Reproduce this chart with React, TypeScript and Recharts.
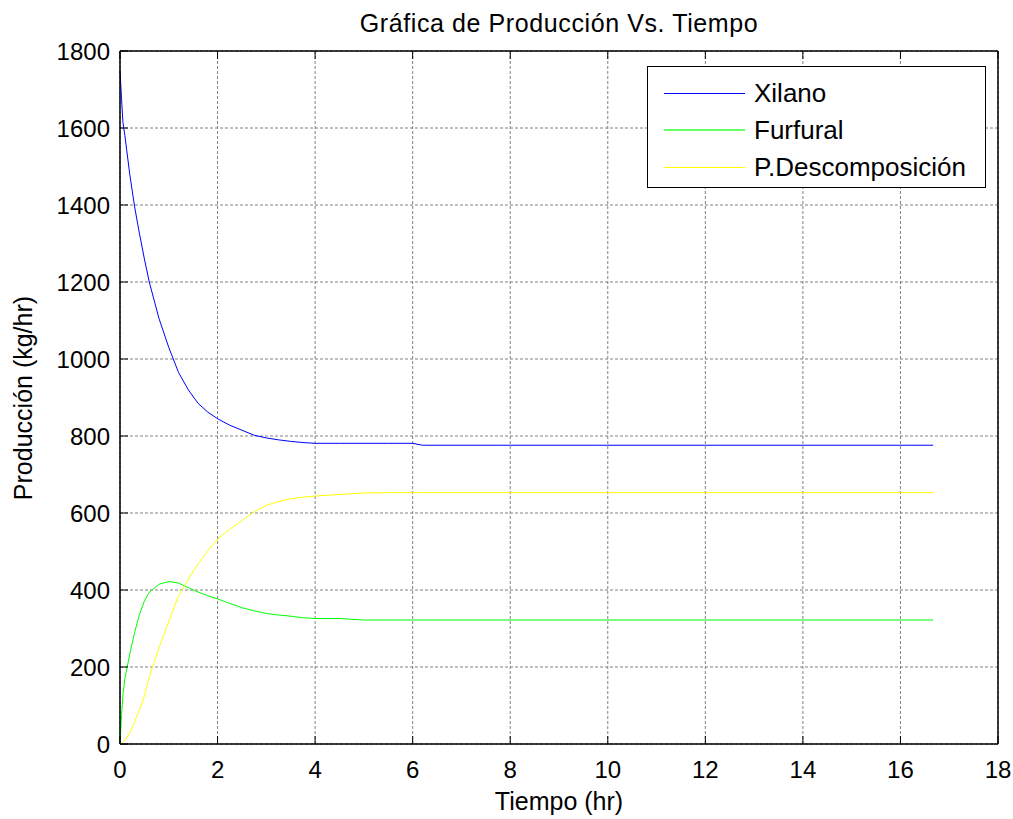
import React from "react";
import { LineChart, Line, CartesianGrid, XAxis, YAxis } from "recharts";

// tiempo (hr)
const times = [
  0, 0.03, 0.06, 0.1, 0.2, 0.3, 0.4, 0.5, 0.6, 0.8, 1.0, 1.2, 1.4, 1.6, 1.8,
  2.0, 2.25, 2.5, 2.75, 3.0, 3.25, 3.5, 3.75, 4.0, 4.5, 5.0, 5.5, 6.0, 6.2, 8,
  10, 12, 14, 16, 16.67,
];

const xilano = [
  1750, 1680, 1615, 1580, 1480, 1395, 1325, 1260, 1200, 1105, 1030, 965, 920,
  885, 862, 845, 828, 815, 802, 795, 790, 786, 783, 781, 781, 781, 781, 781,
  776, 776, 776, 776, 776, 776, 776,
];

const furfural = [
  0, 70, 128, 170, 233, 290, 337, 371, 394, 415, 422, 418, 406, 395, 385, 377,
  365, 354, 346, 339, 335, 332, 328, 326, 326, 322, 322, 322, 322, 322, 322,
  322, 322, 322, 322,
];

const descomposicion = [
  0, 1, 4, 10, 28, 58, 88, 125, 175, 250, 318, 385, 428, 468, 502, 532, 558,
  580, 603, 620, 630, 637, 641, 644, 648, 652, 653, 653, 653, 653, 653, 653,
  653, 653, 653,
];

const xTicks = [0, 2, 4, 6, 8, 10, 12, 14, 16, 18];
const yTicks = [0, 200, 400, 600, 800, 1000, 1200, 1400, 1600, 1800];

const series = [
  { key: "xilano", name: "Xilano", color: "#0000ff", legendColor: "#0000ff", legendWidth: 1 },
  { key: "furfural", name: "Furfural", color: "#00ff00", legendColor: "#66ff66", legendWidth: 2 },
  { key: "descomposicion", name: "P.Descomposición", color: "#ffff00", legendColor: "#ffff00", legendWidth: 1 },
];

const data = times.map((t, i) => ({
  t,
  xilano: xilano[i],
  furfural: furfural[i],
  descomposicion: descomposicion[i],
}));

const FONT = '"Liberation Sans", Arial, sans-serif';
const W = 1013;
const H = 819;
// plot box
const LEFT = 120;
const TOP = 51;
const RIGHT = 998;
const BOTTOM = 744;
const TICK_LEN = 8;

// MATLAB style ticks: pointing into the plot box
const BottomTick = (props: any) => {
  const { payload } = props;
  const x = payload.coordinate;
  return (
    <g>
      <line x1={x} x2={x} y1={BOTTOM} y2={BOTTOM - TICK_LEN} stroke="#000" />
      <text
        x={x}
        y={BOTTOM + 34}
        textAnchor="middle"
        fontSize={24}
        fontFamily={FONT}
        fill="#000"
      >
        {payload.value}
      </text>
    </g>
  );
};

const TopTick = (props: any) => {
  const x = props.payload.coordinate;
  return <line x1={x} x2={x} y1={TOP} y2={TOP + TICK_LEN} stroke="#000" />;
};

const LeftTick = (props: any) => {
  const { payload } = props;
  const y = payload.coordinate;
  return (
    <g>
      <line x1={LEFT} x2={LEFT + TICK_LEN} y1={y} y2={y} stroke="#000" />
      <text
        x={LEFT - 10}
        y={y + 8.5}
        textAnchor="end"
        fontSize={24}
        fontFamily={FONT}
        fill="#000"
      >
        {payload.value}
      </text>
    </g>
  );
};

const RightTick = (props: any) => {
  const y = props.payload.coordinate;
  return <line x1={RIGHT} x2={RIGHT - TICK_LEN} y1={y} y2={y} stroke="#000" />;
};

const axisLine = { stroke: "#000", strokeWidth: 1.5 };

export default function App() {
  return (
    <div
      style={{
        position: "absolute",
        left: 0,
        top: 0,
        width: W,
        height: H,
        background: "#fff",
        fontFamily: FONT,
        color: "#000",
      }}
    >
      <LineChart
        width={W}
        height={H}
        data={data}
        margin={{ top: TOP - 1, right: W - RIGHT - 1, left: 0, bottom: 0 }}
      >
        <CartesianGrid
          xAxisId="bottom"
          yAxisId="left"
          stroke="#808080"
          strokeDasharray="3 2"
        />
        <XAxis
          xAxisId="bottom"
          dataKey="t"
          type="number"
          domain={[0, 18]}
          ticks={xTicks}
          height={H - BOTTOM}
          tickSize={0}
          tickMargin={0}
          tickLine={false}
          tick={<BottomTick />}
          axisLine={axisLine}
          interval={0}
        />
        <XAxis
          xAxisId="top"
          orientation="top"
          dataKey="t"
          type="number"
          domain={[0, 18]}
          ticks={xTicks}
          height={1}
          tickSize={0}
          tickMargin={0}
          tickLine={false}
          tick={<TopTick />}
          axisLine={axisLine}
          interval={0}
        />
        <YAxis
          yAxisId="left"
          type="number"
          domain={[0, 1800]}
          ticks={yTicks}
          width={LEFT}
          tickSize={0}
          tickMargin={0}
          tickLine={false}
          tick={<LeftTick />}
          axisLine={axisLine}
          interval={0}
        />
        <YAxis
          yAxisId="right"
          orientation="right"
          type="number"
          domain={[0, 1800]}
          ticks={yTicks}
          width={1}
          tickSize={0}
          tickMargin={0}
          tickLine={false}
          tick={<RightTick />}
          axisLine={axisLine}
          interval={0}
        />
        {series.map((s) => (
          <Line
            key={s.key}
            xAxisId="bottom"
            yAxisId="left"
            type="linear"
            dataKey={s.key}
            name={s.name}
            stroke={s.color}
            strokeWidth={1}
            dot={false}
            activeDot={false}
            isAnimationActive={false}
          />
        ))}
      </LineChart>

      {/* title and axis labels */}
      <div
        style={{
          position: "absolute",
          left: 0,
          width: LEFT + RIGHT,
          top: 9,
          textAlign: "center",
          fontSize: 25,
          letterSpacing: 0.6,
          lineHeight: "28px",
          whiteSpace: "nowrap",
        }}
      >
        Gráfica de Producción Vs. Tiempo
      </div>
      <div
        style={{
          position: "absolute",
          left: 0,
          width: LEFT + RIGHT,
          top: 787,
          textAlign: "center",
          fontSize: 25,
          lineHeight: "28px",
          whiteSpace: "nowrap",
        }}
      >
        Tiempo (hr)
      </div>
      <div
        style={{
          position: "absolute",
          left: 23 - 200,
          top: 398 - 14,
          width: 400,
          textAlign: "center",
          fontSize: 25,
          lineHeight: "28px",
          whiteSpace: "nowrap",
          transform: "rotate(-90deg)",
        }}
      >
        Producción (kg/hr)
      </div>

      {/* legend */}
      <div
        style={{
          position: "absolute",
          left: 647,
          top: 66,
          width: 337,
          height: 120,
          border: "1px solid #000",
          background: "#fff",
        }}
      >
        {series.map((s, i) => (
          <div
            key={s.key}
            style={{
              position: "absolute",
              left: 0,
              top: 11 + i * 37,
              height: 30,
              display: "flex",
              alignItems: "center",
            }}
          >
            <div
              style={{
                marginLeft: 16,
                width: 81,
                height: s.legendWidth,
                background: s.legendColor,
              }}
            />
            <span
              style={{
                marginLeft: 9,
                fontSize: 26,
                lineHeight: "30px",
                whiteSpace: "nowrap",
              }}
            >
              {s.name}
            </span>
          </div>
        ))}
      </div>
    </div>
  );
}
